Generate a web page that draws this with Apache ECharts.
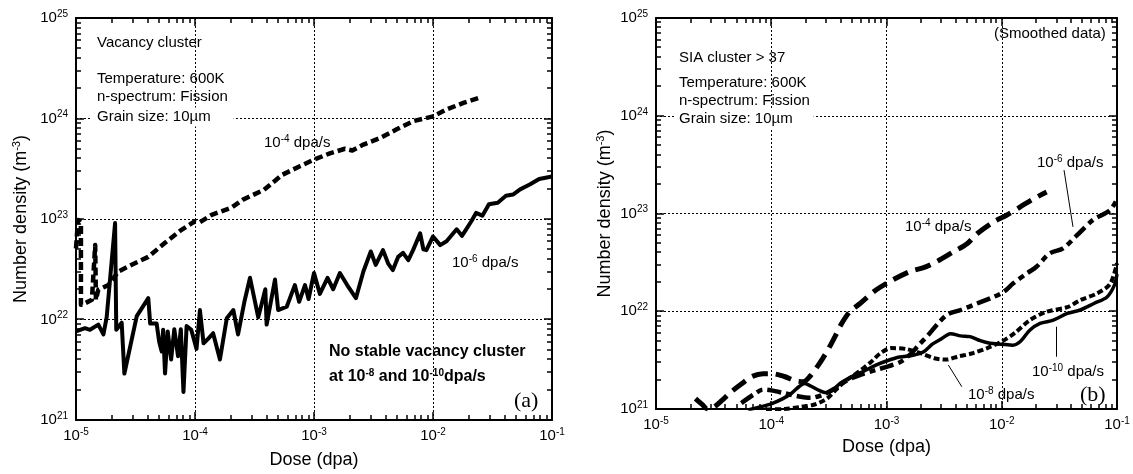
<!DOCTYPE html>
<html>
<head>
<meta charset="utf-8">
<script src="https://cdn.jsdelivr.net/npm/echarts@6/dist/echarts.min.js"></script>
<style>
html, body { margin: 0; padding: 0; background: #fff; }
#main { width: 1133px; height: 474px; }
</style>
</head>
<body>
<div id="main"></div>
<script>
// (a) vacancy cluster, [dose (dpa), number density (m^-3)]
var vac4 = [[1.0e-5,5.1e22],[1.04e-5,9.8e22],[1.1e-5,9.2e22],[1.1e-5,1.4e22],[1.19e-5,1.45e22],[1.36e-5,1.57e22],
  [1.45e-5,5.5e22],[1.47e-5,1.57e22],[1.54e-5,1.98e22],[1.87e-5,2.2e22],[2.27e-5,3.0e22],[2.94e-5,3.5e22],
  [4.05e-5,4.2e22],[5.6e-5,5.8e22],[7.7e-5,7.8e22],[1e-4,9.5e22],[1.1e-4,9.3e22],[1.38e-4,1.1e23],[2.03e-4,1.3e23],
  [2.53e-4,1.56e23],[3.8e-4,1.95e23],[5.4e-4,2.75e23],[7.6e-4,3.35e23],[1e-3,3.9e23],[1.36e-3,4.5e23],[1.82e-3,5.0e23],
  [2.1e-3,4.8e23],[2.6e-3,5.5e23],[3.6e-3,6.4e23],[4.95e-3,7.8e23],[6.8e-3,9.4e23],[1e-2,1.05e24],[1.3e-2,1.23e24],
  [1.8e-2,1.43e24],[2.57e-2,1.64e24]];
var vac6 = [[1e-5,7.6e21],[1.19e-5,8.2e21],[1.31e-5,7.9e21],[1.54e-5,8.9e21],[1.7e-5,7.1e21],[1.81e-5,1.05e22],
  [2.13e-5,9.1e22],[2.18e-5,7.9e21],[2.42e-5,9.3e21],[2.55e-5,2.9e21],[3.24e-5,1.08e22],[4.05e-5,1.63e22],
  [4.2e-5,9.1e21],[4.76e-5,9.1e21],[5.0e-5,6.0e21],[5.25e-5,4.8e21],[5.4e-5,7.9e21],[5.6e-5,2.9e21],[5.9e-5,7.6e21],
  [6.3e-5,4.0e21],[6.7e-5,8.0e21],[7.2e-5,4.3e21],[7.6e-5,8.0e21],[8.0e-5,1.9e21],[8.5e-5,8.6e21],[9.3e-5,7.9e21],
  [1.03e-4,5.1e21],[1.1e-4,1.24e22],[1.18e-4,5.8e21],[1.3e-4,6.5e21],[1.42e-4,7.3e21],[1.62e-4,4.0e21],[1.85e-4,1.03e22],
  [2.1e-4,1.24e22],[2.3e-4,7.1e21],[2.6e-4,1.5e22],[2.9e-4,2.6e22],[3.4e-4,1.05e22],[3.9e-4,2.0e22],[4.0e-4,8.9e21],
  [4.7e-4,2.5e22],[5.0e-4,1.24e22],[5.9e-4,1.34e22],[6.9e-4,2.2e22],[7.5e-4,1.5e22],[8.4e-4,2.2e22],[9e-4,1.6e22],
  [1e-3,2.9e22],[1.12e-3,1.8e22],[1.3e-3,2.6e22],[1.45e-3,2.0e22],[1.65e-3,2.9e22],[1.9e-3,2.2e22],[2.25e-3,1.63e22],
  [2.6e-3,3.0e22],[3.0e-3,4.75e22],[3.3e-3,3.5e22],[3.8e-3,4.9e22],[4.2e-3,3.6e22],[4.6e-3,3.1e22],[5.1e-3,4.2e22],
  [5.6e-3,4.6e22],[6.2e-3,3.9e22],[6.8e-3,4.9e22],[7.8e-3,7.2e22],[8.3e-3,5.0e22],[8.8e-3,4.9e22],[1e-2,6.7e22],
  [1.15e-2,5.5e22],[1.3e-2,6.0e22],[1.58e-2,7.9e22],[1.75e-2,6.8e22],[1.9e-2,7.9e22],[2.1e-2,9.5e22],[2.3e-2,1.15e23],
  [2.6e-2,1.08e23],[2.95e-2,1.4e23],[3.5e-2,1.45e23],[4.1e-2,1.7e23],[4.7e-2,1.75e23],[5.4e-2,1.97e23],[6.5e-2,2.2e23],
  [7.8e-2,2.5e23],[1e-1,2.65e23]];

// (b) SIA cluster > 37, smoothed
var sia4 = [[2.2e-5,1.28e21],[2.5e-5,1.12e21],[2.8e-5,1.0e21],[3.2e-5,1.05e21],[3.8e-5,1.25e21],[4.5e-5,1.5e21],
  [5.5e-5,1.8e21],[6.8e-5,2.15e21],[8.5e-5,2.3e21],[1e-4,2.3e21],[1.3e-4,2.15e21],[1.6e-4,1.95e21],[1.9e-4,1.9e21],
  [2.2e-4,2.2e21],[2.5e-4,2.7e21],[2.8e-4,3.3e21],[3.2e-4,4.3e21],[3.6e-4,5.6e21],[4e-4,7.2e21],[4.8e-4,9.9e21],
  [5.9e-4,1.2e22],[8.1e-4,1.65e22],[1.14e-3,2.1e22],[1.6e-3,2.55e22],[2.1e-3,2.8e22],[2.7e-3,3.2e22],[3.8e-3,4.05e22],
  [5e-3,4.9e22],[6.1e-3,6.2e22],[8.5e-3,8.2e22],[1.1e-2,9.6e22],[1.45e-2,1.17e23],[1.9e-2,1.42e23],[2.45e-2,1.66e23]];
var sia6 = [[5.5e-5,1.15e21],[7e-5,1.4e21],[8.5e-5,1.58e21],[1e-4,1.55e21],[1.3e-4,1.45e21],[1.7e-4,1.35e21],
  [2.2e-4,1.3e21],[2.8e-4,1.4e21],[3.5e-4,1.6e21],[4.5e-4,1.95e21],[6e-4,2.25e21],[8e-4,2.5e21],[1.05e-3,2.75e21],
  [1.3e-3,3.0e21],[1.6e-3,3.6e21],[1.9e-3,4.5e21],[2.3e-3,5.7e21],[2.8e-3,7.5e21],[3.4e-3,9.3e21],[4.4e-3,1.03e22],
  [6.1e-3,1.2e22],[8.5e-3,1.4e22],[1.04e-2,1.58e22],[1.26e-2,1.93e22],[1.65e-2,2.44e22],[2e-2,2.85e22],[2.6e-2,3.9e22],
  [3.4e-2,4.4e22],[4.5e-2,6e22],[6.2e-2,8.6e22],[8.7e-2,1.08e23],[1e-1,1.4e23]];
var sia8 = [[9e-5,0.99e21],[1.3e-4,1.0e21],[1.8e-4,1.05e21],[2.3e-4,1.1e21],[2.7e-4,1.18e21],[3.1e-4,1.3e21],
  [3.6e-4,1.55e21],[4.2e-4,1.85e21],[5e-4,2.15e21],[6e-4,2.5e21],[7.5e-4,3.1e21],[8.8e-4,3.7e21],[1.1e-3,4.2e21],
  [1.5e-3,4.1e21],[2e-3,3.7e21],[2.6e-3,3.3e21],[3.3e-3,3.2e21],[4.2e-3,3.45e21],[5.5e-3,3.7e21],[7.5e-3,4.2e21],
  [1e-2,4.9e21],[1.3e-2,6e21],[1.75e-2,8.1e21],[2.45e-2,9.9e21],[3.7e-2,1.1e22],[4.8e-2,1.3e22],[6.7e-2,1.52e22],
  [8.7e-2,1.9e22],[1e-1,3.1e22]];
var sia10 = [[6.3e-5,0.98e21],[8e-5,1.05e21],[1e-4,1.13e21],[1.25e-4,1.27e21],[1.5e-4,1.45e21],[1.75e-4,1.7e21],
  [1.95e-4,1.82e21],[2.2e-4,1.72e21],[2.6e-4,1.55e21],[3e-4,1.47e21],[3.4e-4,1.55e21],[4e-4,1.85e21],[5e-4,2.15e21],
  [6.4e-4,2.45e21],[8e-4,2.8e21],[1e-3,3.1e21],[1.3e-3,3.4e21],[1.7e-3,3.55e21],[2.1e-3,3.85e21],[2.5e-3,4.6e21],
  [2.9e-3,5.1e21],[3.6e-3,5.9e21],[4.4e-3,5.6e21],[5.3e-3,5.5e21],[6.5e-3,5.0e21],[7.9e-3,4.7e21],[1e-2,4.6e21],
  [1.25e-2,4.5e21],[1.45e-2,4.9e21],[1.75e-2,6.4e21],[2.15e-2,7.5e21],[2.8e-2,8.1e21],[3.7e-2,9.5e21],[4.8e-2,1.03e22],
  [6.3e-2,1.2e22],[8.2e-2,1.4e22],[9.5e-2,1.85e22],[1e-1,2.4e22]];

var doseRange = [1e-5, 1e-1];
var densRange = [1e21, 1e25];

var FONT = 'Liberation Sans';
var sup = { fontSize: 10, fontFamily: FONT, color: '#000', fill: '#000', padding: [0, 0, 8, 0] };

// tick positions 1..9 per decade
function logTicks(range) {
  var out = [];
  var a = Math.round(Math.log10(range[0])), b = Math.round(Math.log10(range[1]));
  for (var e = a; e < b; e++) {
    for (var k = 1; k < 10; k++) out.push(k * Math.pow(10, e));
  }
  out.push(range[1]);
  return out;
}
var doseTicks = logTicks(doseRange);
var densTicks = logTicks(densRange);

function isDecade(v) {
  var l = Math.log10(v);
  return Math.abs(l - Math.round(l)) < 1e-6;
}
function powLabel(v) {
  return '10{s|' + Math.round(Math.log10(v)) + '}';
}

function axesFor(dim, g, range, nameGap) {
  var isX = dim === 'x';
  var pos = isX ? ['bottom', 'top'] : ['left', 'right'];
  return [{
    gridIndex: g, type: 'log', min: range[0], max: range[1], position: pos[0],
    axisLine: { onZero: false, lineStyle: { color: '#000', width: 2 } },
    axisTick: { show: false },
    axisLabel: { formatter: powLabel, color: '#000', fontSize: 15, fontFamily: FONT, margin: isX ? 7 : 8, rich: { s: sup } },
    splitLine: { show: true, lineStyle: { color: '#000', width: 1, type: [2, 2] } },
    name: isX ? 'Dose (dpa)' : 'Number density (m{s|-3})',
    nameLocation: 'middle',
    nameGap: nameGap,
    nameTextStyle: { color: '#000', fontSize: 18, fontFamily: FONT, rich: { s: { fontSize: 11, fontFamily: FONT, color: '#000', padding: [0, 0, 9, 0] } } }
  }, {
    gridIndex: g, type: 'log', min: range[0], max: range[1], position: pos[1],
    axisLine: { onZero: false, lineStyle: { color: '#000', width: 2 } },
    axisTick: { show: false },
    axisLabel: { show: false },
    splitLine: { show: false }
  }];
}

function lineSeries(data, g, width, dash, smooth) {
  return {
    type: 'line',
    xAxisIndex: g * 2,
    yAxisIndex: g * 2,
    data: data,
    showSymbol: false,
    symbol: 'none',
    smooth: smooth || false,
    clip: true,
    lineStyle: { color: '#000', width: width, type: dash || 'solid', cap: 'butt', join: 'round' },
    z: 3
  };
}

function txt(x, y, text, opt) {
  opt = opt || {};
  return {
    type: 'text',
    x: x,
    y: y,
    z: 10,
    style: {
      text: text,
      fill: '#000',
      fontSize: opt.size || 15,
      fontFamily: opt.family || FONT,
      fontWeight: opt.weight || 'normal',
      verticalAlign: 'middle',
      backgroundColor: opt.bg,
      padding: opt.pad,
      rich: { s: { fontSize: 10, fontFamily: FONT, fontWeight: opt.weight || 'normal', fill: '#000', padding: [0, 0, 8, 0] } }
    }
  };
}

var sia6Arrow = [[{ coord: [3.47e-2, 2.78e23] }, { coord: [4.15e-2, 7.3e22] }]];
var sia8Arrow = [[{ coord: [4.5e-3, 1.69e21] }, { coord: [3.44e-3, 2.82e21] }]];
var sia10Arrow = [[{ coord: [2.96e-2, 3.43e21] }, { coord: [2.96e-2, 6.95e21] }]];

function arrow(lines) {
  return {
    silent: true,
    symbol: ['none', 'arrow'],
    symbolSize: [0, 9],
    label: { show: false },
    lineStyle: { color: '#000', width: 1, type: 'solid' },
    animation: false,
    data: lines
  };
}

var chart = echarts.init(document.getElementById('main'), null, { renderer: 'canvas' });

var s6 = lineSeries(sia6, 1, 4.5, [14, 5, 6, 5], 0.3);
s6.markLine = arrow(sia6Arrow);
var s8 = lineSeries(sia8, 1, 4, [6, 3], 0.3);
s8.markLine = arrow(sia8Arrow);
var s10 = lineSeries(sia10, 1, 3.5, 'solid', 0.3);
s10.markLine = arrow(sia10Arrow);

var labels = [
  txt(97, 43, 'Vacancy cluster'),
  txt(97, 79, 'Temperature: 600K'),
  txt(97, 97, 'n-spectrum: Fission'),
  txt(91, 117, 'Grain size: 10µm', { bg: '#fff', pad: [2, 23, 2, 6] }),
  txt(264, 143, '10{s|-4} dpa/s'),
  txt(452, 263, '10{s|-6} dpa/s'),
  txt(329, 352, 'No stable vacancy cluster', { weight: 'bold', size: 16 }),
  txt(329, 377, 'at 10{s|-8} and 10{s|-10}dpa/s', { weight: 'bold', size: 16 }),
  txt(514, 401, '(a)', { size: 22, family: 'Liberation Serif' }),

  txt(679, 58, 'SIA cluster > 37'),
  txt(679, 83, 'Temperature: 600K'),
  txt(679, 101, 'n-spectrum: Fission'),
  txt(674, 119, 'Grain size: 10µm', { bg: '#fff', pad: [2, 21, 2, 5] }),
  txt(994, 34, '(Smoothed data)'),
  txt(1037, 163, '10{s|-6} dpa/s'),
  txt(905, 227, '10{s|-4} dpa/s'),
  txt(968, 395, '10{s|-8} dpa/s'),
  txt(1032, 372, '10{s|-10} dpa/s'),
  txt(1080, 395, '(b)', { size: 22, family: 'Liberation Serif' })
];

var option = {
  animation: false,
  backgroundColor: '#fff',
  textStyle: { fontFamily: FONT },
  grid: [
    { left: 76, top: 18, width: 476, height: 402 },
    { left: 656, top: 18, width: 461, height: 391 }
  ],
  xAxis: axesFor('x', 0, doseRange, 31).concat(axesFor('x', 1, doseRange, 29)),
  yAxis: axesFor('y', 0, densRange, 45).concat(axesFor('y', 1, densRange, 41)),
  series: [
    lineSeries(vac4, 0, 4.5, [8, 4]),
    lineSeries(vac6, 0, 4, 'solid'),
    lineSeries(sia4, 1, 5, [16, 8], 0.3),
    s6, s8, s10
  ]
};

chart.setOption(option);

// inward log ticks on all four sides, placed through each grid's axes
var ticks = [];
function tickLine(x1, y1, x2, y2) {
  ticks.push({ type: 'line', z: 50, shape: { x1: x1, y1: y1, x2: x2, y2: y2 }, style: { stroke: '#000', lineWidth: 1.5 } });
}
[0, 1].forEach(function (g) {
  doseTicks.forEach(function (v) {
    var len = isDecade(v) ? 8 : 5;
    var a = chart.convertToPixel({ xAxisIndex: g * 2, yAxisIndex: g * 2 }, [v, densRange[0]]);
    var b = chart.convertToPixel({ xAxisIndex: g * 2, yAxisIndex: g * 2 }, [v, densRange[1]]);
    tickLine(Math.round(a[0]), a[1], Math.round(a[0]), a[1] - len);
    tickLine(Math.round(b[0]), b[1], Math.round(b[0]), b[1] + len);
  });
  densTicks.forEach(function (v) {
    var len = isDecade(v) ? 8 : 5;
    var a = chart.convertToPixel({ xAxisIndex: g * 2, yAxisIndex: g * 2 }, [doseRange[0], v]);
    var b = chart.convertToPixel({ xAxisIndex: g * 2, yAxisIndex: g * 2 }, [doseRange[1], v]);
    tickLine(a[0], Math.round(a[1]), a[0] + len, Math.round(a[1]));
    tickLine(b[0], Math.round(b[1]), b[0] - len, Math.round(b[1]));
  });
});

chart.setOption({ graphic: labels.concat(ticks) });
</script>
</body>
</html>
